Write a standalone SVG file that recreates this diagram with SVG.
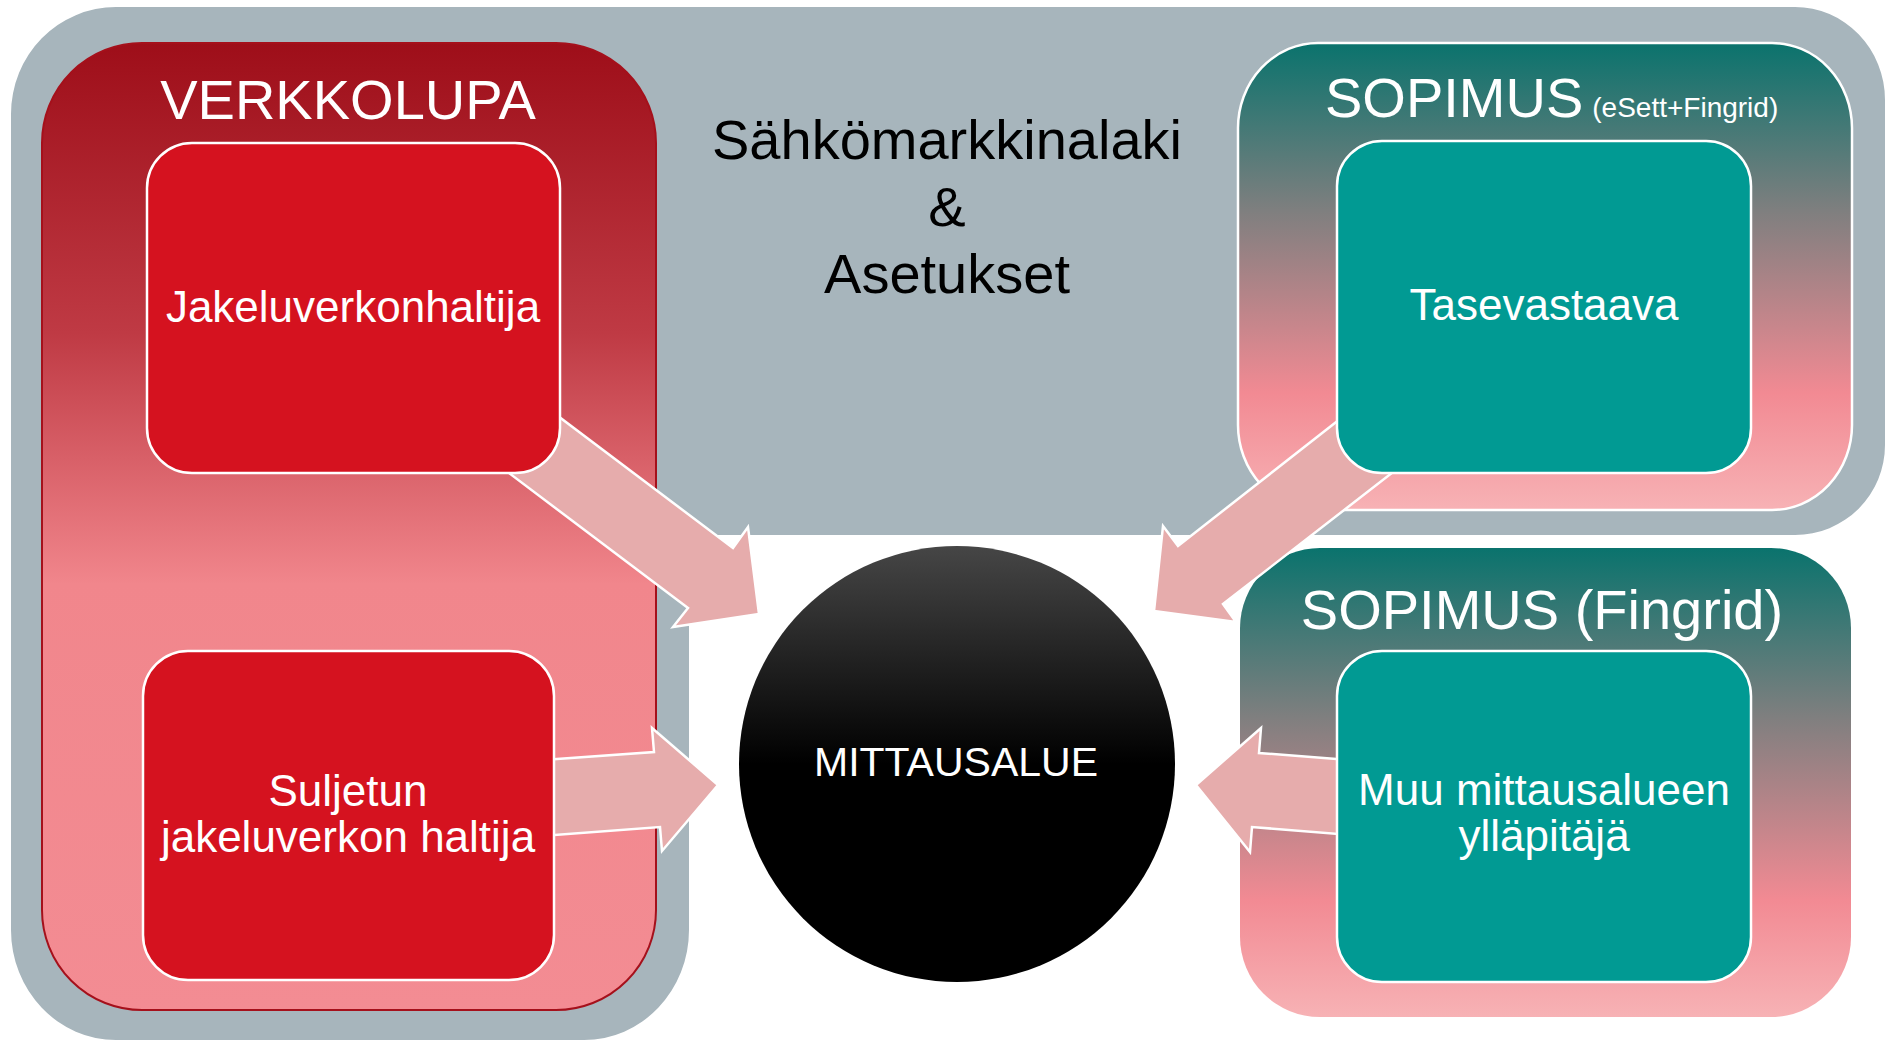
<svg xmlns="http://www.w3.org/2000/svg" width="1887" height="1041" viewBox="0 0 1887 1041">
<defs>
<linearGradient id="gRed" x1="0" y1="0" x2="0" y2="1">
<stop offset="0" stop-color="#9E0E19"/>
<stop offset="0.3" stop-color="#BF3A44"/>
<stop offset="0.56" stop-color="#F1868C"/>
<stop offset="1" stop-color="#F38C93"/>
</linearGradient>
<linearGradient id="gTeal" x1="0" y1="0" x2="0" y2="1">
<stop offset="0" stop-color="#0A736D"/>
<stop offset="0.36" stop-color="#7F7F7F"/>
<stop offset="0.75" stop-color="#F28A93"/>
<stop offset="1" stop-color="#F7B2B5"/>
</linearGradient>
<linearGradient id="gBall" x1="0" y1="0" x2="0" y2="1">
<stop offset="0" stop-color="#464646"/>
<stop offset="0.5" stop-color="#000000"/>
<stop offset="1" stop-color="#000000"/>
</linearGradient>
<style>
.t{font-family:"Liberation Sans",Arial,sans-serif;fill:#fff;text-anchor:middle}
.dark{fill:#000}
.inRed{fill:#D5121F;stroke:#fff;stroke-width:2.5}
.inTeal{fill:#019A93;stroke:#fff;stroke-width:2.5}
.arrow{fill:#E6ACAC;stroke:#fff;stroke-width:2.5;stroke-linejoin:miter}
</style>
</defs>
<g id="background">
<path d="M116,7 H1795 A90,93 0 0 1 1885,100 V445 A90,90 0 0 1 1795,535 H689 V930 A105,110 0 0 1 584,1040 H116 A105,110 0 0 1 11,930 V114 A105,107 0 0 1 116,7 Z" fill="#A7B5BC"/>
<text class="t dark" x="947" y="159" font-size="56">Sähkömarkkinalaki</text>
<text class="t dark" x="947" y="226" font-size="56">&amp;</text>
<text class="t dark" x="947" y="293" font-size="56">Asetukset</text>
</g>
<g id="verkkolupa">
<rect x="42" y="43" width="614" height="967" rx="100" ry="100" fill="url(#gRed)" stroke="#A5101B" stroke-width="2"/>
<text class="t" x="348" y="119" font-size="56">VERKKOLUPA</text>
</g>
<g id="sopimus-esett">
<rect x="1238" y="43" width="614" height="467" rx="80" ry="85" fill="url(#gTeal)" stroke="#fff" stroke-width="2.5"/>
<text class="t" x="1325" y="117" font-size="56" style="text-anchor:start">SOPIMUS<tspan font-size="28" dx="9">(eSett+Fingrid)</tspan></text>
</g>
<g id="sopimus-fingrid">
<rect x="1240" y="548" width="611" height="469" rx="80" ry="80" fill="url(#gTeal)"/>
<text class="t" x="1542" y="629" font-size="56">SOPIMUS (Fingrid)</text>
</g>
<g id="connectors">
<polygon class="arrow" points="481,358 733,548 748,527 759,614 673,627 688,608 432,415"/>
<polygon class="arrow" points="500,763 654,752 652,728 718,785 662,851 660,827 500,839"/>
<polygon class="arrow" points="1400,372 1178,546 1163,526 1154,611 1236,622 1223,604 1455,424"/>
<polygon class="arrow" points="1400,764 1259,753 1261,728 1196,785 1250,852 1252,827 1400,839"/>
</g>
<g id="jakeluverkonhaltija">
<rect class="inRed" x="147" y="143" width="413" height="330" rx="45" ry="45"/>
<text class="t" x="353" y="322" font-size="44">Jakeluverkonhaltija</text>
</g>
<g id="suljetun">
<rect class="inRed" x="143" y="651" width="411" height="329" rx="45" ry="45"/>
<text class="t" x="348" y="806" font-size="44">Suljetun</text>
<text class="t" x="348" y="852" font-size="44">jakeluverkon haltija</text>
</g>
<g id="tasevastaava">
<rect class="inTeal" x="1337" y="141" width="414" height="332" rx="45" ry="45"/>
<text class="t" x="1544" y="320" font-size="44">Tasevastaava</text>
</g>
<g id="muu">
<rect class="inTeal" x="1337" y="651" width="414" height="331" rx="45" ry="45"/>
<text class="t" x="1544" y="805" font-size="44">Muu mittausalueen</text>
<text class="t" x="1544" y="851" font-size="44">ylläpitäjä</text>
</g>
<g id="mittausalue">
<circle cx="957" cy="764" r="218" fill="url(#gBall)"/>
<text class="t" x="956" y="776" font-size="41">MITTAUSALUE</text>
</g>
</svg>
